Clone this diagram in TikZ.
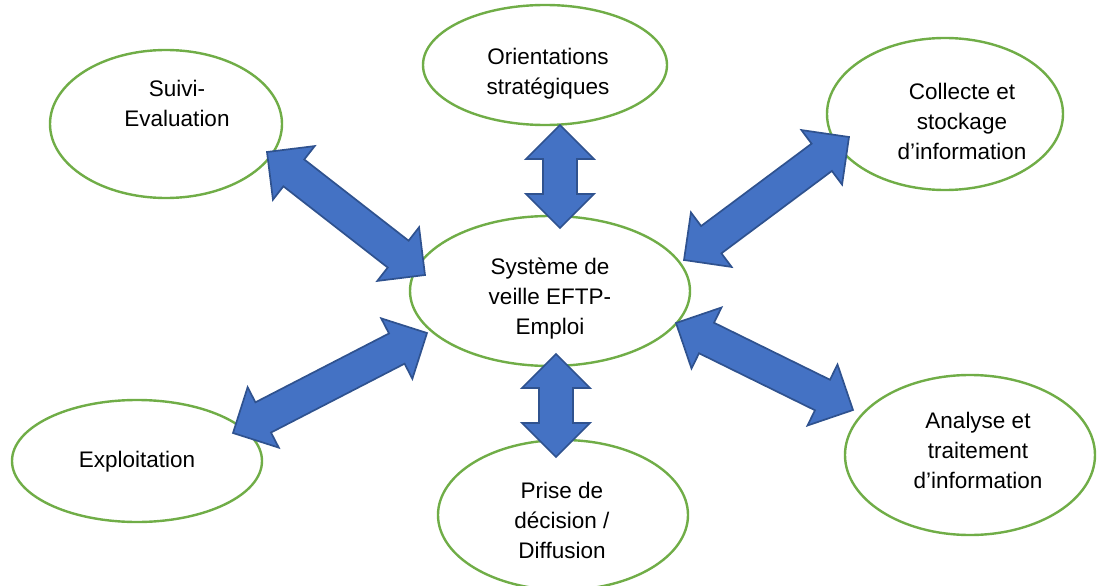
\documentclass[tikz,border=0pt]{standalone}
\usepackage{fontspec}
\setmainfont{Liberation Sans}
\usetikzlibrary{calc,shapes.geometric}
\definecolor{egreen}{HTML}{70AD47}
\definecolor{ablue}{HTML}{4472C4}
\definecolor{abluedark}{HTML}{2F528F}
\tikzset{
  bubble/.style={ellipse, draw=egreen, line width=2.4pt, fill=white, inner sep=0pt},
  lbl/.style={align=center, inner sep=0pt, font=\fontsize{22.5}{30}\selectfont},
  blockarrow/.style={fill=ablue, draw=abluedark, line width=1.7pt, line join=miter}
}
\newcommand\blockarr[2]{%
  \coordinate (#1-h) at ($(#1)!34pt!(#2)$);
  \coordinate (#2-h) at ($(#2)!34pt!(#1)$);
  \draw[blockarrow] (#1)
    -- ($(#1-h)!34pt!90:(#2)$) -- ($(#1-h)!17pt!90:(#2)$)
    -- ($(#2-h)!17pt!-90:(#1)$) -- ($(#2-h)!34pt!-90:(#1)$)
    -- (#2)
    -- ($(#2-h)!34pt!90:(#1)$) -- ($(#2-h)!17pt!90:(#1)$)
    -- ($(#1-h)!17pt!-90:(#2)$) -- ($(#1-h)!34pt!-90:(#2)$)
    -- cycle;}
\begin{document}
\begin{tikzpicture}[x=1pt,y=-1pt]
\useasboundingbox (0,0) rectangle (1104,586);
\clip (0,0) rectangle (1104,586);
% ellipses
\node[bubble, minimum width=232pt, minimum height=148pt] (suivi) at (166,124) {};
\node[bubble, minimum width=244pt, minimum height=120pt] (orient) at (545,65) {};
\node[bubble, minimum width=236pt, minimum height=152pt] (collecte) at (945,114) {};
\node[bubble, minimum width=280pt, minimum height=150pt] (centre) at (550,291) {};
\node[bubble, minimum width=250pt, minimum height=122pt] (exploit) at (137,461) {};
\node[bubble, minimum width=250pt, minimum height=150pt] (prise) at (563,515) {};
\node[bubble, minimum width=250pt, minimum height=160pt] (analyse) at (970,455) {};
% labels
\node[lbl] (tsuivi) at (177,103) {Suivi-\\Evaluation};
\node[lbl] (torient) at (548,74) {Orientations\\strat\'egiques};
\node[lbl] (tcollecte) at (962,121) {Collecte et\\stockage\\d’information};
\node[lbl] (tcentre) at (550,299) {Syst\`eme de\\veille EFTP-\\Emploi};
\node[lbl] (texploit) at (137,462) {Exploitation};
\node[lbl] (tprise) at (562,520) {Prise de\\d\'ecision /\\Diffusion};
\node[lbl] (tanalyse) at (978,450) {Analyse et\\traitement\\d’information};
% arrow end points
\coordinate (a1s) at (267,152); \coordinate (a1e) at (425,275);
\coordinate (a2s) at (560,125); \coordinate (a2e) at (560,228);
\coordinate (a3s) at (849,137); \coordinate (a3e) at (684,260);
\coordinate (a4s) at (233,433); \coordinate (a4e) at (427,333);
\coordinate (a5s) at (676,323); \coordinate (a5e) at (853,410);
\coordinate (a6s) at (556,354); \coordinate (a6e) at (556,457);
\blockarr{a1s}{a1e}
\blockarr{a2s}{a2e}
\blockarr{a3s}{a3e}
\blockarr{a4s}{a4e}
\blockarr{a5s}{a5e}
\blockarr{a6s}{a6e}
\end{tikzpicture}
\end{document}
